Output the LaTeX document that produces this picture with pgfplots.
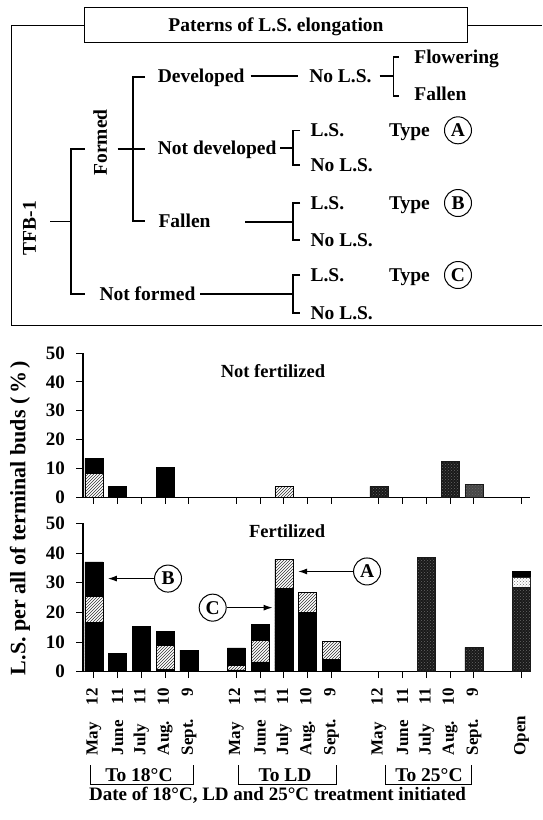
\documentclass[border=0pt]{standalone}
\usepackage{fontspec}
\setmainfont{Liberation Serif}
\usepackage{pgfplots}
\pgfplotsset{compat=1.18}
\usetikzlibrary{patterns,arrows.meta}

\newcommand{\fs}[1]{\fontsize{#1}{#1}\selectfont\bfseries}
% month / day label with the day pushed to the far end
\newcommand{\datelab}[2]{\makebox[67pt][s]{#1\hfill#2}}

\pgfplotsset{
  lspanel/.style={
    scale only axis,
    width=447pt,
    xmin=-0.46, xmax=18.36,
    ymin=0, ymax=50,
    axis x line*=bottom, axis y line*=left,
    axis line style={line width=1.2pt, -},
    tick style={line width=1pt, black},
    tick align=outside,
    major tick length=6.5pt,
    xtick={0,1,2,3,4,6,7,8,9,10,12,13,14,15,16,18},
    ytick={0,10,20,30,40,50},
    yticklabel style={font=\fs{19}, xshift=-8pt},
    /pgf/number format/assume math mode=true,
    clip=false,
  },
  barbase/.style={ybar, bar width=18pt, bar shift=0pt, draw=black, line width=0.6pt},
  blk/.style={barbase, fill=black},
  hat/.style={barbase, fill=white, postaction={pattern=north east lines, pattern color=black!80}},
  gry/.style={barbase, draw=black!90, fill=black!90, postaction={pattern=crosshatch dots, pattern color=black!60}},
  lgt/.style={barbase, draw=black!85, fill=white, postaction={pattern=crosshatch dots, pattern color=black!55}},
}
\tikzset{circ/.style={circle, draw, line width=1pt, minimum size=27pt, inner sep=0pt, font=\fs{19.5}}}

\begin{document}
\begin{tikzpicture}
\useasboundingbox (0pt,0pt) rectangle (542pt,-820pt);

% ---------- scheme of the elongation patterns ----------
\begin{scope}[x=1pt, y=-1pt, line width=1.1pt,
  tx/.style={font=\fs{19.5}, inner sep=0pt, anchor=base west}]
  \draw (11.4,25.5) -- (84.7,25.5);
  \draw (84.7,7.3) rectangle (467.3,42.7);
  \draw (467.3,25.5) -- (542,25.5);
  \draw (11.4,25.5) -- (11.4,325.5) -- (542,325.5);
  \node[font=\fs{19.5}, anchor=base, inner sep=0pt] at (276,31.5) {Paterns of L.S. elongation};

  \node[rotate=90, font=\fs{19.5}, inner sep=0pt] at (29.4,228) {TFB-1};
  \draw (50,221.7) -- (71,221.7);
  \draw (84.7,149) -- (71,149) -- (71,294) -- (84.7,294);

  \node[rotate=90, font=\fs{19.5}, inner sep=0pt] at (100.2,142.5) {Formed};
  \draw (117.5,149) -- (145.2,149);
  \draw (145,77) -- (133,77) -- (133,221) -- (145,221);

  \node[tx] at (157.3,82.5) {Developed};
  \draw (250.6,76) -- (298,76);
  \node[tx] at (308.7,82.5) {No L.S.};
  \draw (379.5,76) -- (393.4,76);
  \draw (399,57) -- (393.4,57) -- (393.4,96) -- (399,96);
  \node[tx] at (413.8,63.2) {Flowering};
  \node[tx] at (413.8,100.2) {Fallen};

  \node[tx] at (157.3,154.5) {Not developed};
  \draw (280,148) -- (293,148);
  \draw (300,130.5) -- (293,130.5) -- (293,165) -- (300,165);
  \node[tx] at (310,136.8) {L.S.};
  \node[tx] at (388.5,136.8) {Type};
  \node[circ] at (458,130.3) {A};
  \node[tx] at (310,171.5) {No L.S.};

  \node[tx] at (158,227.5) {Fallen};
  \draw (245,222) -- (293,222);
  \draw (300,203) -- (293,203) -- (293,240) -- (300,240);
  \node[tx] at (310,209.5) {L.S.};
  \node[tx] at (388.5,209.5) {Type};
  \node[circ] at (458,203) {B};
  \node[tx] at (310,246.5) {No L.S.};

  \node[tx] at (99,300.5) {Not formed};
  \draw (200,294) -- (293,294);
  \draw (300,275) -- (293,275) -- (293,313) -- (300,313);
  \node[tx] at (310,281.5) {L.S.};
  \node[tx] at (388.5,281.5) {Type};
  \node[circ] at (458,275) {C};
  \node[tx] at (310,319.5) {No L.S.};
\end{scope}

% ---------- not fertilized ----------
\begin{axis}[lspanel, at={(83pt,-497.3pt)}, anchor=south west, height=144.3pt,
  xticklabels={}]
  % whole bar height
  \addplot[blk] coordinates {(0,13.5) (1,3.8) (3,10.4)};
  \addplot[hat] coordinates {(0,8.3) (8,3.8)};
  \addplot[gry] coordinates {(12,3.8) (15,12.4)};
  \addplot[gry, fill=black!72] coordinates {(16,4.5)};
  \node[anchor=base east, font=\fs{18.5}, inner sep=0pt] at (rel axis cs:0.542,0.828) {Not fertilized};
\end{axis}

% ---------- fertilized ----------
\begin{axis}[lspanel, at={(83pt,-671.7pt)}, anchor=south west, height=148.3pt,
  xticklabel style={yshift=-6.5pt, rotate=90, anchor=east, font=\fs{17}},
  xticklabels={\datelab{May}{12},\datelab{June}{11},\datelab{July}{11},\datelab{Aug.}{10},\datelab{Sept.}{9},
               \datelab{May}{12},\datelab{June}{11},\datelab{July}{11},\datelab{Aug.}{10},\datelab{Sept.}{9},
               \datelab{May}{12},\datelab{June}{11},\datelab{July}{11},\datelab{Aug.}{10},\datelab{Sept.}{9},
               \makebox[67pt][l]{Open}}]
  % top of each bar (type B on top)
  \addplot[blk] coordinates {(0,37.0) (1,6.3) (2,15.4) (3,13.7) (4,7.3)
                             (6,8.0) (7,15.9) (8,37.8) (9,26.7) (10,10.2) (18,33.9)};
  % top of the type A part
  \addplot[hat] coordinates {(0,25.5) (3,8.9) (6,2.0) (7,10.5) (8,37.8) (9,26.7) (10,10.2)};
  \addplot[lgt] coordinates {(18,31.7)};
  % top of the type C part
  \addplot[blk] coordinates {(0,16.7) (3,0.7) (6,0.6) (7,3.3) (8,28.1) (9,20.0) (10,4.2)};
  \addplot[gry] coordinates {(14,38.6) (16,8.2) (18,28.5)};

  \node[anchor=base east, font=\fs{18.5}, inner sep=0pt] at (rel axis cs:0.542,0.904) {Fertilized};

  \node[circ] (nB) at (axis cs:3.12,31.4) {B};
  \draw[line width=1pt, -{Latex[length=9pt,width=6pt]}] (nB.west) -- (axis cs:0.59,31.4);
  \node[circ] (nC) at (axis cs:5.0,21.6) {C};
  \draw[line width=1pt, -{Latex[length=9pt,width=6pt]}] (nC.east) -- (axis cs:7.52,21.6);
  \node[circ] (nA) at (axis cs:11.5,33.8) {A};
  \draw[line width=1pt, -{Latex[length=9pt,width=6pt]}] (nA.west) -- (axis cs:8.6,33.8);
\end{axis}

% ---------- axis title and treatment groups ----------
\begin{scope}[x=1pt, y=-1pt, line width=1pt]
  \node[rotate=90, font=\fs{22}, inner sep=0pt] at (20,518) {L.S. per all of terminal buds\ (\,\%\,)};
  \draw (90,765) -- (90,784) -- (193,784) -- (193,765);
  \draw (238,765) -- (238,784) -- (336,784) -- (336,765);
  \draw (385,765) -- (385,784) -- (471,784) -- (471,765);
  \node[font=\fs{19.5}, anchor=base, inner sep=0pt] at (139,781) {To 18°C};
  \node[font=\fs{19.5}, anchor=base, inner sep=0pt] at (285,781) {To LD};
  \node[font=\fs{19.5}, anchor=base, inner sep=0pt] at (429,781) {To 25°C};
  \node[font=\fs{19}, anchor=base, inner sep=0pt] at (277.6,800) {Date of 18°C, LD and 25°C treatment initiated};
\end{scope}
\end{tikzpicture}
\end{document}
